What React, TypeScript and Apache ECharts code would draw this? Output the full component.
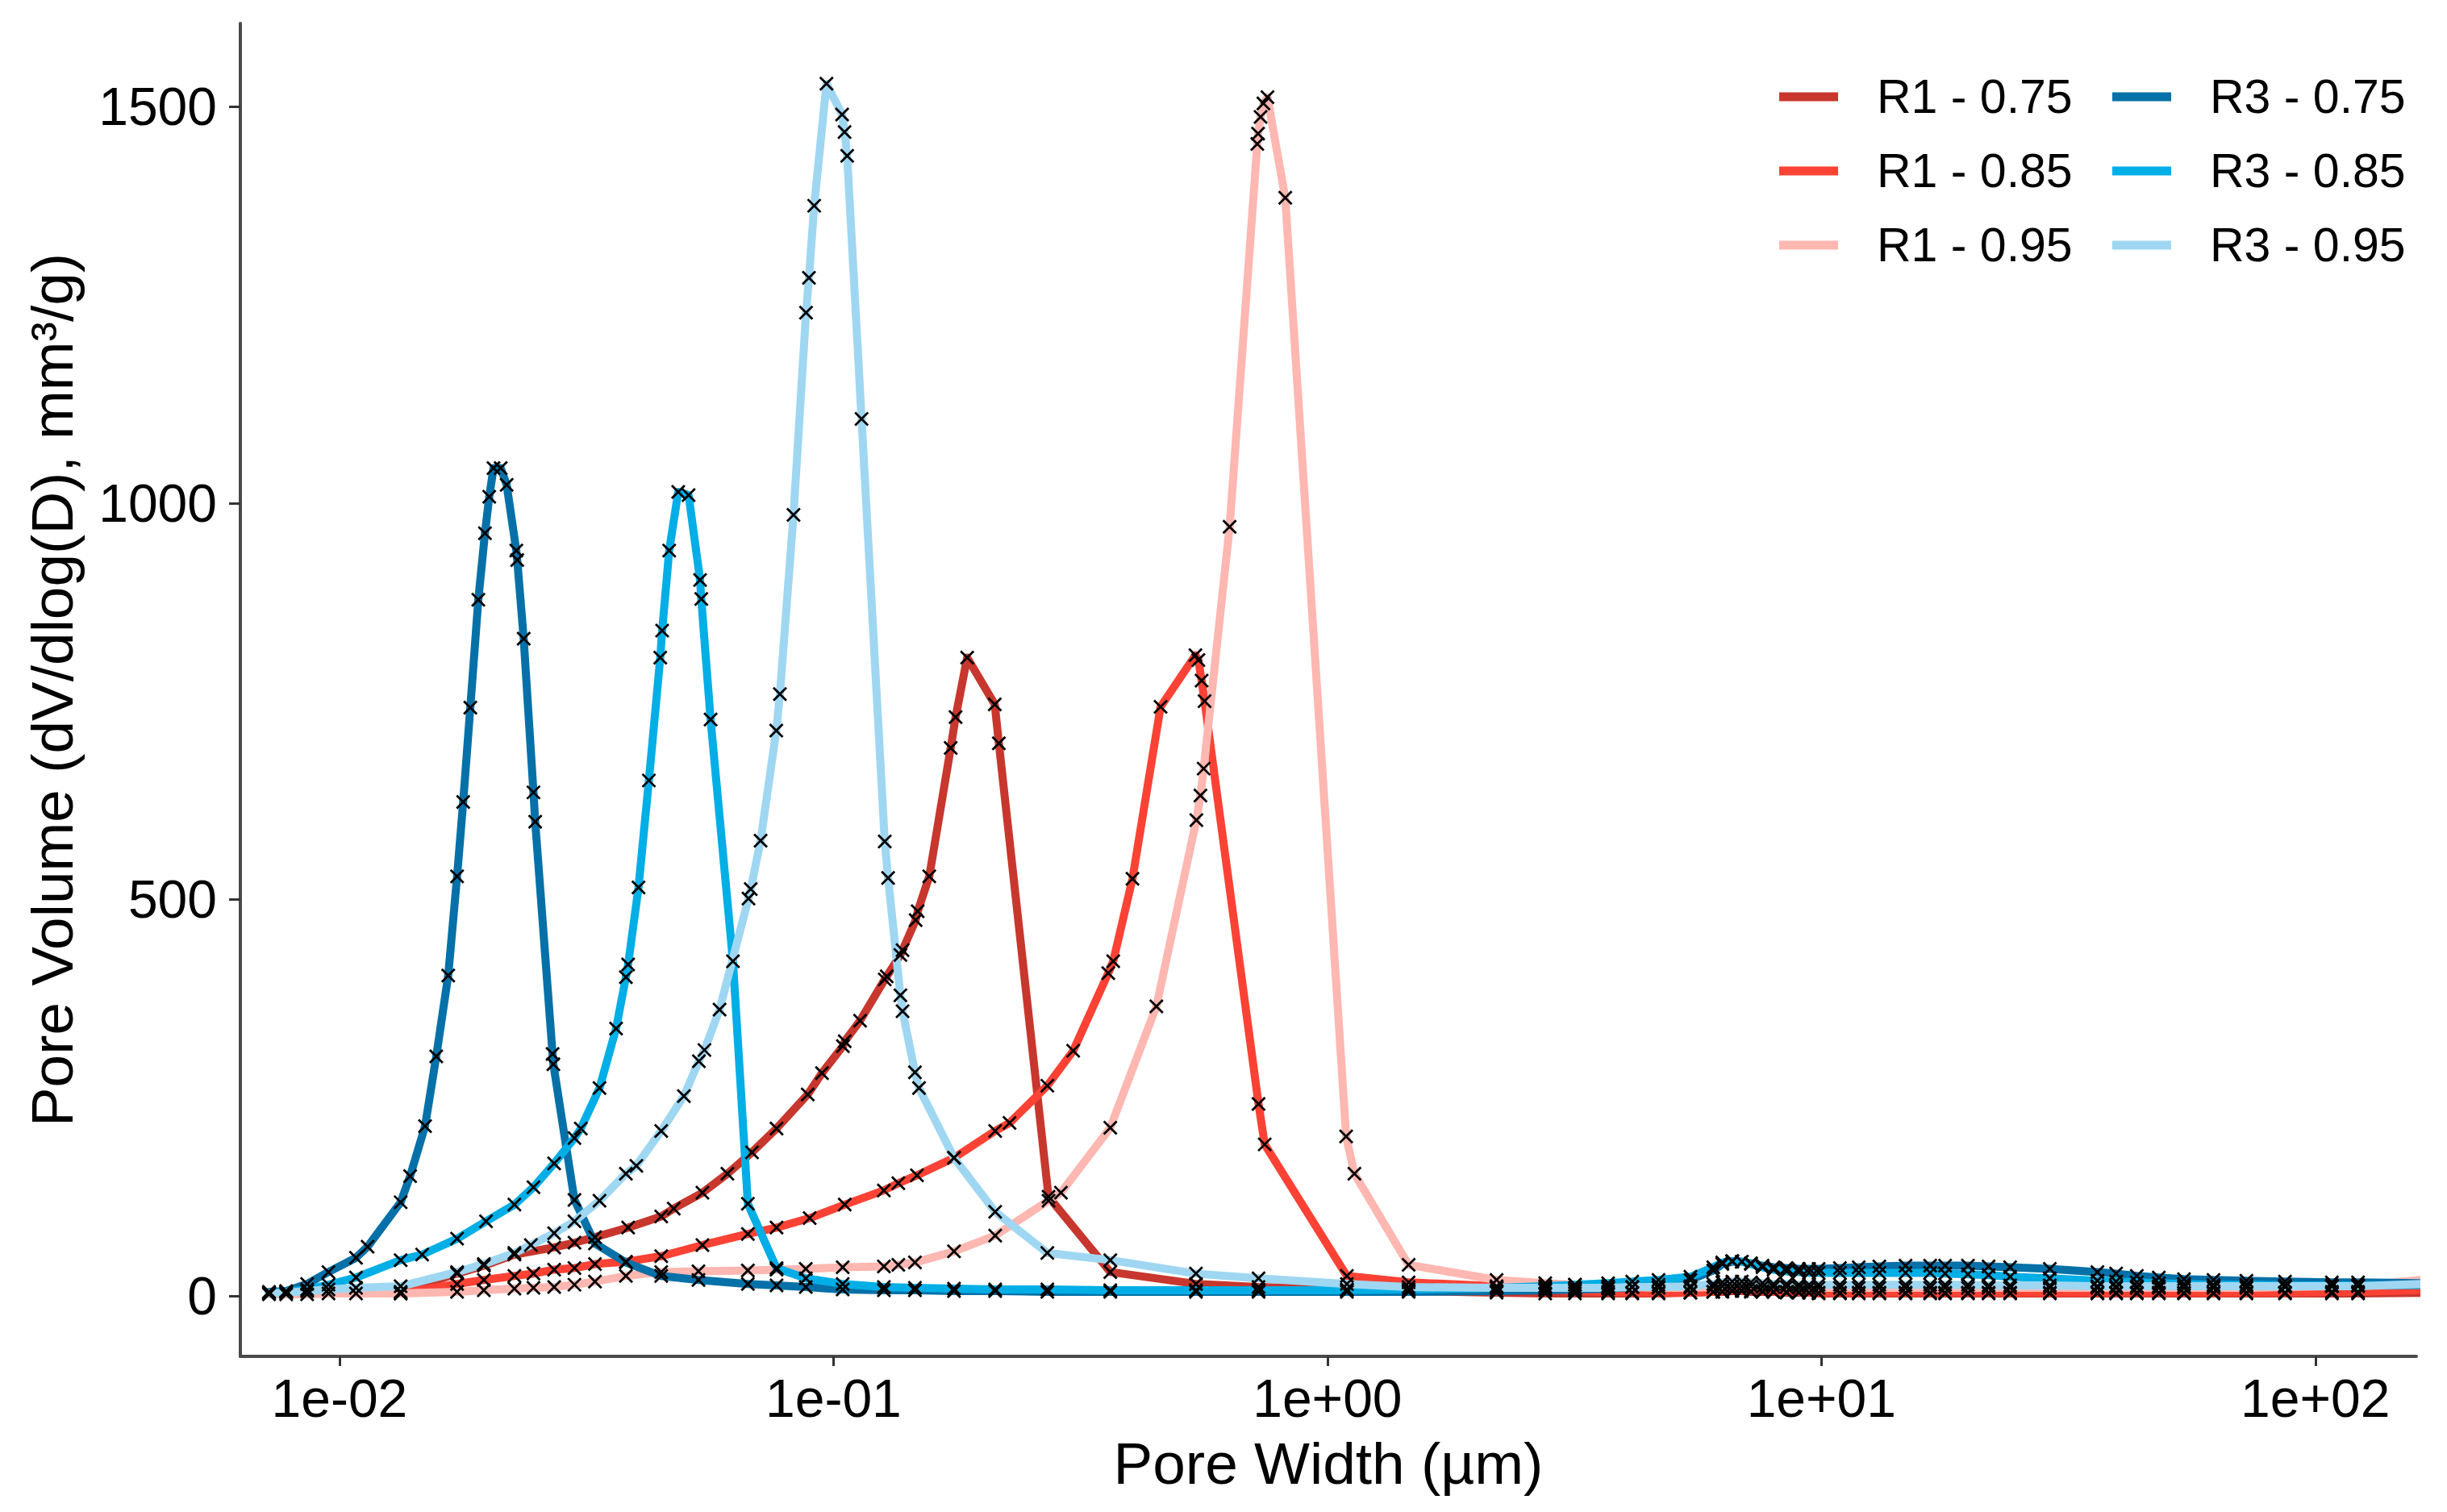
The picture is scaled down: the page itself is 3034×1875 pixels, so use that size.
import React, { useEffect, useRef } from "react";
import * as echarts from "echarts";

// ---------- data (pore width in µm, pore volume dV/dlog(D) in mm³/g) ----------
const SERIES_NAMES = ["R1 - 0.75", "R1 - 0.85", "R1 - 0.95", "R3 - 0.75", "R3 - 0.85", "R3 - 0.95"];
const COLORS = ["#C8372D", "#FB4234", "#FFB7B1", "#0571A8", "#02AEE6", "#9FD7F2"];

const X_TICKS = [0.01, 0.1, 1, 10, 100];
const X_TICK_LABELS = ["1e-02", "1e-01", "1e+00", "1e+01", "1e+02"];
const Y_TICKS = [0, 500, 1000, 1500];

// shared coarse-pore tail grid
const TAIL_X = [2.2, 2.76, 3.17, 3.7, 4.14, 4.68, 5.43, 6.04, 6.3, 6.6, 6.9, 7.2, 7.6, 8.0, 8.5, 9.0, 9.44, 9.87, 10.9, 11.9, 13.1, 14.8, 16.6, 17.8, 19.8, 21.8, 24.1, 29.0, 36.2, 39.5, 43.5, 48.2, 54.2, 62.2, 72.5, 86.8, 108, 122, 200];

const R1_075_X = [0.0133, 0.0173, 0.0196, 0.0226, 0.0272, 0.0299, 0.0329, 0.0384, 0.0448, 0.0475, 0.0543, 0.061, 0.0684, 0.0767, 0.0887, 0.0948, 0.1045, 0.1054, 0.1132, 0.127, 0.1282, 0.1366, 0.138, 0.1467, 0.1481, 0.1563, 0.1727, 0.1767, 0.1865, 0.2121, 0.2162, 0.2725, 0.3634, 0.5418, 0.7253, 1.095, 1.46];
const R1_075_Y = [5, 28, 38, 52, 61, 67, 74, 86, 100, 110, 130, 154, 181, 211, 254, 281, 315, 321, 347, 399, 403, 430, 436, 474, 485, 529, 691, 730, 805, 746, 697, 125, 30, 15, 11, 8, 6];
const R1_075_T = [4, 3, 3, 3, 3, 3, 4, 5, 5, 6, 6, 5, 5, 5, 4, 4, 4, 3, 3, 3, 3, 3, 3, 3, 3, 3, 3, 3, 3, 3, 3, 3, 3, 3, 3, 3, 3, 3, 4];

const R1_085_X = [0.0133, 0.0173, 0.0196, 0.0226, 0.0247, 0.0272, 0.0299, 0.0329, 0.038, 0.0448, 0.0543, 0.0671, 0.0767, 0.0895, 0.1054, 0.1265, 0.1353, 0.1476, 0.1754, 0.2125, 0.2272, 0.271, 0.3057, 0.36, 0.3684, 0.403, 0.4594, 0.5405, 0.5479, 0.5563, 0.564, 0.7253, 0.7464, 1.095, 1.46];
const R1_085_Y = [3, 15, 20, 25, 28, 33, 35, 40, 43, 50, 64, 78, 86, 98, 115, 133, 142, 152, 174, 208, 218, 265, 309, 407, 422, 526, 743, 808, 802, 776, 750, 242, 191, 25, 17];
const R1_085_T = [12, 8, 6, 5, 4, 4, 4, 5, 6, 7, 7, 6, 6, 5, 5, 5, 4, 4, 4, 4, 4, 4, 4, 4, 4, 4, 4, 4, 4, 4, 4, 4, 4, 4, 4, 4, 5, 5, 9];

const R1_095_X = [0.0072, 0.0078, 0.0086, 0.0095, 0.0108, 0.0133, 0.0173, 0.0196, 0.0226, 0.0247, 0.0272, 0.0299, 0.0329, 0.038, 0.0448, 0.0533, 0.0671, 0.0767, 0.0879, 0.1044, 0.1265, 0.1353, 0.1462, 0.1754, 0.2125, 0.2725, 0.2887, 0.3634, 0.4505, 0.5428, 0.5533, 0.5616, 0.6339, 0.7211, 0.7238, 0.7323, 0.742, 0.7561, 0.8215, 1.091, 1.134, 1.46];
const R1_095_Y = [2, 2, 2, 3, 3, 3, 5, 7, 9, 10, 11, 14, 18, 25, 30, 31, 32, 33, 34, 36, 37, 39, 42, 56, 76, 120, 130, 212, 365, 600, 631, 665, 970, 1453, 1466, 1487, 1504, 1512, 1385, 201, 154, 39];
const R1_095_T = [20, 16, 14, 12, 11, 10, 10, 11, 12, 12, 12, 12, 11, 11, 11, 10, 10, 10, 10, 10, 10, 10, 10, 10, 10, 10, 10, 10, 10, 10, 10, 10, 10, 10, 10, 11, 12, 13, 25];

const R3_075_X = [0.0072, 0.0078, 0.0086, 0.0095, 0.0108, 0.0114, 0.0133, 0.0139, 0.0149, 0.0157, 0.0166, 0.0173, 0.0178, 0.0184, 0.0191, 0.0197, 0.0201, 0.0205, 0.0212, 0.0218, 0.0228, 0.0229, 0.0236, 0.0247, 0.0249, 0.027, 0.0271, 0.0299, 0.0329, 0.038, 0.0448, 0.0533, 0.0671, 0.0767, 0.0879, 0.1044, 0.1265, 0.1462, 0.1754, 0.2125, 0.271, 0.3634, 0.5418, 0.7253, 1.095, 1.46];
const R3_075_Y = [5, 6, 15, 30, 48, 62, 118, 151, 214, 302, 404, 529, 623, 742, 878, 962, 1008, 1044, 1044, 1023, 940, 928, 829, 635, 598, 305, 292, 121, 66, 42, 25, 20, 15, 13, 11, 8, 7, 7, 6, 6, 5, 5, 5, 5, 5, 5];
const R3_075_T = [6, 7, 8, 9, 11, 14, 20, 32, 40, 43, 43, 41, 38, 36, 35, 34, 34, 34, 35, 36, 37, 38, 38, 38, 38, 37, 36, 34, 30, 28, 25, 23, 21, 20, 19, 18, 17, 17, 15];

const R3_085_X = [0.0072, 0.0078, 0.0086, 0.0095, 0.0108, 0.0133, 0.0147, 0.0173, 0.0198, 0.0226, 0.0247, 0.0272, 0.0299, 0.0308, 0.0336, 0.0363, 0.038, 0.0384, 0.0403, 0.0423, 0.0446, 0.045, 0.0465, 0.0485, 0.0509, 0.0537, 0.054, 0.0564, 0.0626, 0.0671, 0.0767, 0.0879, 0.1044, 0.1265, 0.1462, 0.1754, 0.2125, 0.271, 0.3634, 0.5418, 0.7253, 1.095, 1.46];
const R3_085_Y = [4, 5, 8, 14, 23, 45, 52, 72, 94, 115, 137, 167, 199, 211, 262, 337, 402, 418, 515, 650, 805, 839, 940, 1014, 1010, 903, 879, 727, 422, 116, 35, 22, 15, 11, 10, 9, 8, 8, 7, 7, 7, 7, 8];
const R3_085_T = [10, 12, 14, 16, 18, 20, 24, 36, 42, 44, 43, 40, 36, 33, 31, 30, 29, 29, 29, 29, 29, 29, 29, 28, 27, 26, 24, 22, 19, 18, 17, 16, 15, 14, 14, 13, 13, 13, 14];

const R3_095_X = [0.0072, 0.0078, 0.0086, 0.0095, 0.0108, 0.0133, 0.0173, 0.0196, 0.0226, 0.0244, 0.0272, 0.0299, 0.0336, 0.038, 0.0399, 0.0448, 0.0498, 0.0534, 0.0548, 0.0588, 0.0673, 0.068, 0.0712, 0.0766, 0.0779, 0.083, 0.088, 0.0892, 0.0914, 0.0968, 0.1041, 0.1053, 0.1066, 0.114, 0.127, 0.129, 0.1366, 0.138, 0.1462, 0.149, 0.1754, 0.2125, 0.271, 0.3634, 0.5418, 0.7253, 1.095, 1.46];
const R3_095_Y = [3, 4, 6, 8, 10, 12, 30, 40, 54, 64, 79, 94, 120, 154, 164, 208, 252, 296, 310, 361, 501, 513, 574, 713, 759, 985, 1240, 1284, 1375, 1529, 1490, 1468, 1438, 1106, 573, 527, 379, 359, 282, 262, 174, 106, 54, 45, 28, 22, 15, 11];
const R3_095_T = [10, 10, 10, 10, 11, 11, 12, 15, 17, 18, 18, 17, 16, 15, 15, 14, 14, 14, 14, 14, 14, 14, 14, 14, 14, 13, 13, 13, 12, 12, 12, 12, 12, 12, 12, 12, 12, 12, 17];

const SERIES_X = [R1_075_X, R1_085_X, R1_095_X, R3_075_X, R3_085_X, R3_095_X];
const SERIES_Y = [R1_075_Y, R1_085_Y, R1_095_Y, R3_075_Y, R3_085_Y, R3_095_Y];
const SERIES_T = [R1_075_T, R1_085_T, R1_095_T, R3_075_T, R3_085_T, R3_095_T];

// ---------- layout ----------
const W = 3034;
const H = 1875;
const FONT = "'Liberation Sans', Arial, sans-serif";
const X_MIN_LOG = -2.2007;
const X_MAX_LOG = 2.2044;
const Y_MIN = -76.4;
const Y_MAX = 1605;

const lg = (v: number) => Math.log10(v);

function seriesPoints(i: number): number[][] {
  const xs = SERIES_X[i].concat(TAIL_X);
  const ys = SERIES_Y[i].concat(SERIES_T[i]);
  return xs.map((x, k) => [lg(x), ys[k]]);
}

export default function App() {
  const ref = useRef<HTMLDivElement>(null);

  useEffect(() => {
    if (!ref.current) return;
    const chart = echarts.init(ref.current, null, { renderer: "svg" });

    const lineSeries = SERIES_NAMES.map((name, i) => ({
      name,
      type: "line",
      data: seriesPoints(i),
      color: COLORS[i],
      symbol: "none",
      showSymbol: false,
      lineStyle: { color: COLORS[i], width: 10, cap: "round", join: "round" },
      itemStyle: { color: COLORS[i] },
      clip: true,
      z: 2 + i * 0.01,
      silent: true,
      emphasis: { disabled: true },
    }));

    const markerData: number[][] = [];
    SERIES_NAMES.forEach((_, i) => {
      seriesPoints(i).forEach((p) => markerData.push(p));
    });

    const markerSeries = {
      name: "markers",
      type: "scatter",
      data: markerData,
      symbol: "path://M0,0L10,10M10,0L0,10",
      symbolSize: 16,
      itemStyle: { color: "rgba(0,0,0,0)", borderColor: "#000", borderWidth: 2.8, opacity: 1 },
      clip: true,
      z: 5,
      silent: true,
      emphasis: { disabled: true },
    };

    const xTickLog = X_TICKS.map(lg);

    const legendCommon = {
      orient: "vertical",
      top: 85,
      itemWidth: 73,
      itemHeight: 11,
      itemGap: 22,
      padding: 0,
      icon: "rect",
      selectedMode: false,
      textStyle: {
        fontFamily: FONT,
        fontSize: 59,
        color: "#000",
        lineHeight: 70,
        padding: [0, 0, 0, 43],
      },
    };

    const option = {
      animation: false,
      backgroundColor: "#ffffff",
      textStyle: { fontFamily: FONT },
      grid: { left: 298, right: W - 2996, top: 29, bottom: H - 1682, containLabel: false },
      legend: [
        { ...legendCommon, left: 2206, data: SERIES_NAMES.slice(0, 3) },
        { ...legendCommon, left: 2619, data: SERIES_NAMES.slice(3, 6) },
      ],
      xAxis: {
        type: "value",
        min: X_MIN_LOG,
        max: X_MAX_LOG,
        name: "Pore Width (µm)",
        nameLocation: "middle",
        nameGap: 96,
        nameTextStyle: { fontFamily: FONT, fontSize: 73, color: "#000" },
        axisLine: { show: true, onZero: false, lineStyle: { color: "#4a4a4a", width: 4 } },
        axisTick: {
          show: true,
          length: 12,
          customValues: xTickLog,
          lineStyle: { color: "#333", width: 3 },
        },
        axisLabel: {
          show: true,
          customValues: xTickLog,
          margin: 19,
          fontSize: 66,
          fontFamily: FONT,
          color: "#000",
          formatter: (v: number) => {
            const k = xTickLog.findIndex((t) => Math.abs(t - v) < 1e-6);
            return k >= 0 ? X_TICK_LABELS[k] : "";
          },
        },
        splitLine: { show: false },
      },
      yAxis: {
        type: "value",
        min: Y_MIN,
        max: Y_MAX,
        name: "Pore Volume (dV/dlog(D), mm³/g)",
        nameLocation: "middle",
        nameRotate: 90,
        nameGap: 197,
        nameTextStyle: { fontFamily: FONT, fontSize: 73, color: "#000" },
        axisLine: { show: true, onZero: false, lineStyle: { color: "#4a4a4a", width: 4 } },
        axisTick: {
          show: true,
          length: 14,
          customValues: Y_TICKS,
          lineStyle: { color: "#333", width: 3 },
        },
        axisLabel: {
          show: true,
          customValues: Y_TICKS,
          margin: 29,
          fontSize: 66,
          fontFamily: FONT,
          color: "#000",
          formatter: (v: number) => String(Math.round(v)),
        },
        splitLine: { show: false },
      },
      series: [...lineSeries, markerSeries],
    };

    chart.setOption(option as any);
    return () => chart.dispose();
  }, []);

  return (
    <div
      ref={ref}
      style={{ position: "fixed", left: 0, top: 0, width: W, height: H, background: "#fff" }}
    />
  );
}
